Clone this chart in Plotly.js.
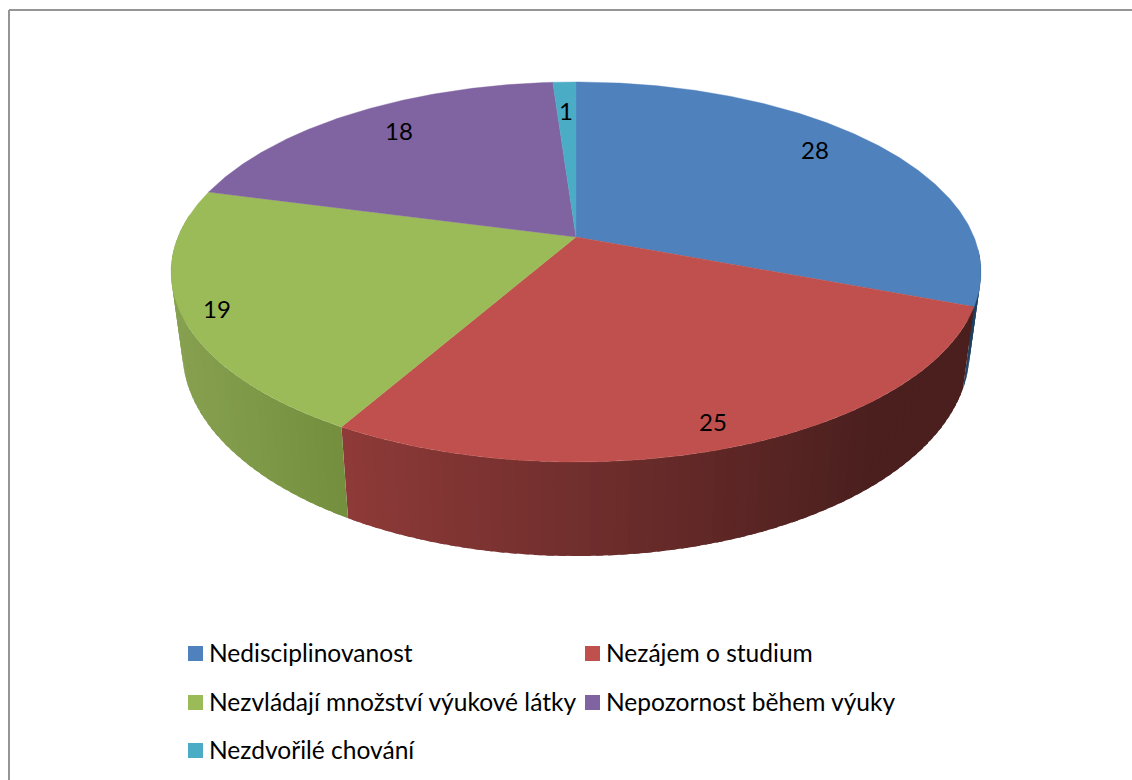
<!DOCTYPE html>
<html>
<head>
<meta charset="utf-8">
<script src="https://cdn.plot.ly/plotly-3.0.1.min.js"></script>
<style>html,body{margin:0;padding:0;background:#fff}#chart{width:1132px;height:780px}</style>
</head>
<body>
<div id="chart"></div>
<script>
// ---- data ----
const categories = ["Nedisciplinovanost", "Nezájem o studium", "Nezvládají množství výukové látky", "Nepozornost během výuky", "Nezdvořilé chování"];
const values = [28, 25, 19, 18, 1];
const topColors = ["#4F81BD", "#C0504D", "#9BBB59", "#8064A2", "#4BACC6"];
// side shading: colour at the left and right of the visible wall, per slice
const sideLeft  = [[31,64,96], [142,58,56], [134,160,80], [90,70,115], [50,120,140]];
const sideRight = [[31,64,96], [74,31,30], [116,144,62], [90,70,115], [50,120,140]];

// ---- projection of the tilted disc ----
const CX = 576, CY = 237, KP = 0.1842, AY = 183.6, RX = 398, DEPTH = 76.7, SX = 0.972;
function topPoint(theta) {
  const u = Math.sin(theta), v = Math.cos(theta), w = 1 + KP * v;
  return [CX + RX * u / w, CY - AY * v / w];
}
function bottomPoint(theta) {
  const p = topPoint(theta), w = 1 + KP * Math.cos(theta);
  return [CX + SX * (p[0] - CX), p[1] + DEPTH / w];
}
function mix(a, b, t) {
  t = Math.max(0, Math.min(1, t));
  return "rgb(" + a.map((c, i) => Math.round(c + (b[i] - c) * t)).join(",") + ")";
}

const total = values.reduce((a, b) => a + b, 0);
const toRad = f => f * 2 * Math.PI;
let acc = 0;
const slices = values.map(v => { const s = acc / total; acc += v; return [toRad(s), toRad(acc / total)]; });

const traces = [];
function poly(xs, ys, color, lw) {
  traces.push({type: "scatter", mode: "lines", x: xs, y: ys, fill: "toself", fillcolor: color,
    line: {color: color, width: lw}, hoverinfo: "skip", showlegend: false});
}

// walls: every strip overlaps the next one, so that no seam shows
const STEP = 1.5 * Math.PI / 180, WALL_MIN = Math.PI * 0.52, WALL_MAX = Math.PI * 1.54;
slices.forEach((s, i) => {
  const a0 = Math.max(s[0], WALL_MIN), a1 = Math.min(s[1], WALL_MAX);
  if (a1 <= a0) return;
  const n = Math.ceil((a1 - a0) / STEP), d = (a1 - a0) / n;
  for (let k = 0; k < n; k++) {
    const t0 = a0 + d * k, t1 = Math.min(a1, t0 + d * 1.6);
    const p0 = topPoint(t0), p1 = topPoint(t1), q0 = bottomPoint(t0), q1 = bottomPoint(t1);
    const xm = topPoint(t0 + d / 2)[0];
    let color;
    if (i === 1) color = mix(sideRight[i], sideLeft[i], (880 - xm) / 535);
    else if (i === 2) color = mix(sideLeft[i], sideRight[i], (xm - 175) / 165);
    else color = mix(sideLeft[i], sideRight[i], 0.5);
    poly([p0[0], p1[0], q1[0], q0[0], p0[0]], [p0[1], p1[1], q1[1], q0[1], p0[1]], color, 0);
  }
});

// top faces
slices.forEach((s, i) => {
  const xs = [CX], ys = [CY], n = Math.ceil((s[1] - s[0]) / (0.5 * Math.PI / 180));
  for (let k = 0; k <= n; k++) {
    const p = topPoint(s[0] + (s[1] - s[0]) * k / n);
    xs.push(p[0]); ys.push(p[1]);
  }
  xs.push(CX); ys.push(CY);
  poly(xs, ys, topColors[i], 0.4);
});

// legend swatches and entries
const legendCol = [188, 585], legendRow = [653.5, 702.5, 750.5];
const FONT = "Lato, 'Noto Sans', sans-serif";
const annotations = [];
categories.forEach((name, i) => {
  const cx = legendCol[i % 2], cy = legendRow[Math.floor(i / 2)];
  traces.push({type: "scatter", mode: "markers", x: [cx + 7.5], y: [cy],
    marker: {symbol: "square", size: 15, color: topColors[i], line: {width: 0}}, hoverinfo: "skip", showlegend: false});
  annotations.push({x: cx + 19, y: cy - 1.5, xref: "x", yref: "y", xanchor: "left", yanchor: "middle", showarrow: false,
    text: name, font: {family: FONT, size: 24.55, color: "#000"}});
});

// value labels
const labelAt = [[815, 149], [713, 421], [217, 308], [399, 130], [566, 110]];
values.forEach((v, i) => {
  annotations.push({x: labelAt[i][0], y: labelAt[i][1], xref: "x", yref: "y", xanchor: "center", yanchor: "middle",
    showarrow: false, text: String(v), font: {family: FONT, size: 24, color: "#000"}});
});

const frame = {color: "#959595", width: 2};
Plotly.newPlot("chart", traces, {
  width: 1132, height: 780, autosize: false,
  margin: {l: 0, r: 0, t: 0, b: 0},
  paper_bgcolor: "#fff", plot_bgcolor: "#fff", showlegend: false,
  xaxis: {range: [0, 1132], visible: false, fixedrange: true},
  yaxis: {range: [780, 0], visible: false, fixedrange: true},
  annotations: annotations,
  shapes: [
    {type: "line", xref: "x", yref: "y", x0: 9, x1: 1132, y0: 10, y1: 10, line: frame},
    {type: "line", xref: "x", yref: "y", x0: 9, x1: 9, y0: 10, y1: 780, line: frame}
  ]
}, {displayModeBar: false, staticPlot: true});
</script>
</body>
</html>
